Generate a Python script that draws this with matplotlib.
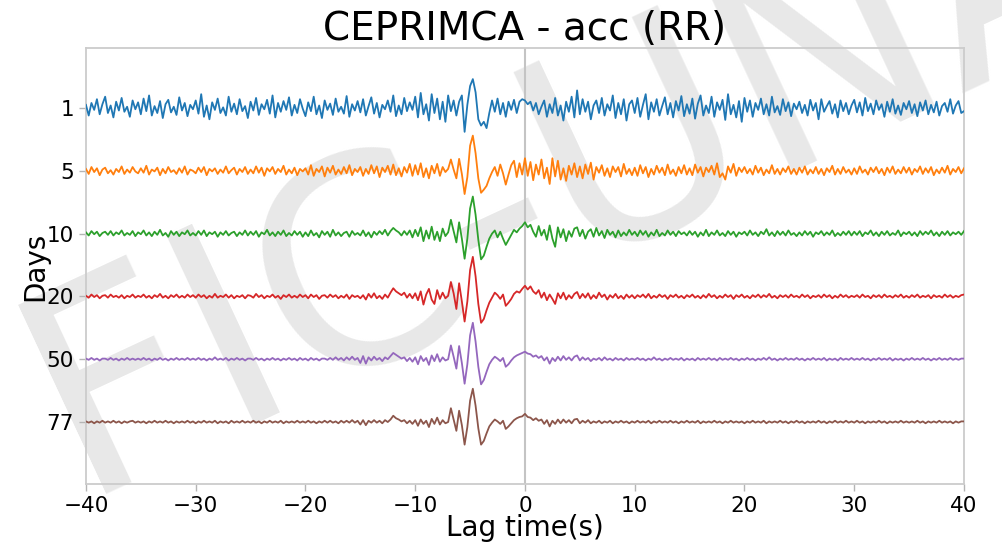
import numpy as np
import matplotlib
matplotlib.use("Agg")
import matplotlib.pyplot as plt

# ---- data -----------------------------------------------------------------
days = ["1", "5", "10", "20", "50", "77"]
t_start, t_step = -40.0, 0.25          # lag-time sampling (s)

# amplitudes (100 = spacing between two traces), one row = 5 s
d1 = [5,-12,8,-3,14,-10,6,18,-8,4,-15,10,-4,16,-6,2,-14,12,-2,9,
      -10,15,-5,20,-12,3,-8,11,-16,6,13,-7,2,-11,17,-4,8,-13,5,-2,
      12,-9,22,-14,4,-18,9,-3,15,-8,1,-12,18,-6,7,-10,14,-5,3,-16,
      10,-4,16,-11,6,-2,13,-9,20,-15,8,-6,11,-3,17,-12,5,-8,14,-1,
      -13,9,-5,18,-10,4,-16,12,-3,7,-11,15,-6,2,-9,19,-14,6,-4,11,
      -7,14,-12,3,17,-9,8,-15,5,-2,12,-6,20,-13,4,-10,16,-5,9,-3,
      18,-15,24,-10,6,-20,22,-8,15,-18,10,-22,20,-5,12,-12,10,20,-38,5,
      35,46,25,-18,-28,-22,-32,-8,12,-6,15,-10,8,-14,10,-3,13,-8,10,14,
      12,6,10,-4,8,-10,2,12,-14,6,-8,16,-12,4,-20,10,-6,18,-15,28,
      -10,14,-6,10,-18,4,12,-8,16,-12,6,-4,20,-16,8,-10,14,-20,6,12,
      -8,16,-14,5,22,-18,9,-6,14,-12,3,17,-10,8,-15,11,-4,19,-13,6,
      -9,15,-17,7,20,-12,4,-8,18,-14,9,-3,13,-19,22,-10,5,-15,11,-22,
      16,-6,12,-14,8,-3,15,-10,6,-12,18,-7,3,-11,14,-5,9,-13,7,-2,
      10,-8,5,-12,13,-4,8,-18,14,-6,3,11,-9,6,-15,12,-5,8,-10,4,
      13,-7,9,-12,16,-5,7,-10,12,-3,6,-14,10,-6,14,-9,4,-11,8,-2,
      11,-8,6,-13,9,-4,12,-10,5,-7,10,-12,3,8,-6,14,-9,4,11,-8,
      -5]

d5 = [3,-5,6,-2,4,-7,2,5,-4,1,-6,3,-2,7,-5,2,-3,6,-1,-4,
      4,-3,8,-6,2,-1,5,-7,3,-4,6,-2,1,-5,4,-3,7,-6,2,0,
      -4,5,-2,6,-7,3,-1,4,-5,2,-3,7,-4,1,5,-6,3,-2,6,-5,
      2,-4,7,-3,5,-8,4,-1,6,-5,3,-2,8,-6,2,-4,5,-7,3,-1,
      4,-6,9,-8,3,-2,7,-9,5,-3,8,-6,2,-5,6,-4,9,-7,3,-2,
      6,-8,3,-5,9,-4,7,-10,5,-2,8,-6,10,-7,4,-9,6,-3,11,-8,
      9,-6,12,-10,4,-12,8,-4,11,-8,6,-2,3,18,2,-12,19,-5,-37,-10,
      40,56,28,-12,-35,-30,-24,-12,-2,6,-8,10,-4,-22,-6,9,16,-10,12,-6,
      20,-8,14,-15,10,-6,18,-12,5,-21,20,-9,16,-14,4,-16,8,-6,12,-10,
      7,-12,10,-5,13,-14,6,-3,9,-8,4,-10,7,-2,6,-9,11,-5,3,-7,
      5,-8,9,-4,6,-10,3,-6,8,-3,5,-7,10,-5,2,-8,6,-4,9,-6,
      4,-7,10,-3,6,-9,5,-2,8,-6,12,-10,-4,-14,7,-3,11,-8,5,-2,
      6,-4,3,-6,8,-3,5,-7,2,-4,9,-5,3,-6,4,-2,7,-5,3,-6,
      5,-3,7,-6,2,-4,6,-5,3,-7,4,-2,8,-6,3,-5,6,-3,2,-6,
      4,-5,7,-3,2,-6,5,-2,6,-4,3,-7,5,-3,7,-5,2,-4,6,-3,
      5,-6,3,-2,7,-5,4,-3,6,-7,2,-4,5,-3,8,-6,3,-2,6,-4,
      4]

d10 = [2,-3,4,-1,3,-4,1,3,-2,4,-3,2,-1,5,-3,1,-2,4,-4,2,
       -1,5,-3,2,-4,3,-2,6,-3,1,-5,4,-2,3,-4,2,-1,5,-3,1,
       -3,4,-2,5,-4,2,-1,3,-5,2,-2,4,-3,1,3,-4,2,-2,5,-3,
       3,-2,4,-5,2,-1,6,-3,2,-4,3,-2,5,-4,1,-3,4,-2,3,-5,
       2,-4,5,-3,1,-6,4,-2,3,-5,6,-3,2,-4,1,3,-5,4,-2,1,
       -3,5,-4,2,-6,3,-2,4,-1,6,-3,4,9,5,2,-3,4,-2,5,-6,
       6,-4,10,-12,5,-8,11,-10,3,-12,8,-4,2,22,4,-14,18,-8,-40,-8,
       40,59,30,-10,-41,-35,-21,-8,0,5,-6,3,-8,-18,-10,-2,6,2,8,12,
       18,10,14,3,-5,12,-3,6,-10,13,-8,-21,10,-6,7,-12,4,-5,8,10,
       -4,6,-8,3,7,-5,9,-3,4,-7,6,-2,3,-6,5,-4,2,-3,6,-2,
       3,-4,5,-2,4,-5,2,-3,6,-4,1,-3,5,-2,3,-4,4,-1,2,-3,
       4,-2,3,-5,2,-3,6,-4,2,-2,5,-3,1,-4,4,-2,3,-5,2,-1,
       3,-3,5,-2,2,-4,3,-1,7,-3,2,-4,4,-2,3,-3,5,-2,1,-4,
       2,-3,4,-2,3,-5,2,-1,4,-3,2,-2,5,-4,1,-3,3,-2,4,-3,
       3,-2,4,-4,2,-1,5,-3,2,-4,3,-2,4,-3,1,-2,5,-4,2,-1,
       3,-3,2,-4,4,-2,3,-1,5,-3,2,-4,3,-2,4,-3,2,-1,3,-2,
       4]

d20 = [1,-2,3,-1,2,-3,1,2,-2,3,-1,1,-2,2,-3,1,-1,3,-2,1,
       -1,3,-2,1,-3,2,-1,4,-2,1,-3,2,-1,3,-2,1,-2,3,-1,2,
       -2,3,-1,2,-3,1,-2,4,-2,1,-1,3,-2,2,-3,1,-1,2,-3,2,
       1,-2,4,-1,2,-3,1,-1,3,-2,1,-4,2,-1,3,-2,1,-2,3,-1,
       2,-3,3,-1,2,-4,1,2,-2,3,-1,2,-3,1,-2,3,-4,2,-1,1,
       -3,2,-5,4,-2,5,-3,1,-4,3,-2,6,13,8,5,2,6,-2,4,-3,
       5,-6,8,-13,3,12,-5,-12,10,-4,6,-3,1,23,5,-20,21,-8,-40,-8,
       42,63,32,-12,-42,-36,-22,-10,-2,6,2,-4,3,-15,-10,-4,4,8,6,12,
       17,11,16,8,4,10,-2,6,-6,3,-4,-12,5,-3,6,-5,2,-3,4,7,
       -3,4,-2,5,-4,2,-3,6,-1,3,-5,2,-2,4,-3,1,-4,3,-2,2,
       -3,2,-1,3,-2,4,-3,1,-2,3,-1,2,-4,2,-1,3,-2,1,-3,2,
       -1,3,-2,1,-3,2,-2,4,-1,2,-3,1,-2,3,-1,2,-4,2,-1,3,
       -2,1,-3,2,-1,3,-2,2,-1,4,-2,1,-3,2,-1,2,-2,3,-1,1,
       -2,3,-1,2,-3,1,-1,2,-2,3,-1,2,-3,1,-2,3,-1,2,-2,1,
       -1,2,-2,3,-1,1,-3,2,-1,2,-2,3,-1,1,-2,2,-1,3,-2,1,
       -2,2,-1,3,-2,1,-1,2,-3,2,-1,1,-2,3,-1,2,-2,1,-1,2,
       3]

d50 = [1,-1,2,-1,1,-2,1,1,-1,2,-1,1,-2,1,-1,2,-1,1,-1,1,
       -1,2,-1,1,-2,1,-1,2,-1,1,-2,1,-1,2,-1,1,-1,2,-1,1,
       -1,2,-1,1,-2,1,-1,3,-1,1,-1,2,-2,1,-1,2,-1,1,-2,1,
       1,-1,2,-1,1,-2,1,-1,2,-1,1,-2,1,-1,2,-1,1,-2,2,-1,
       1,-2,2,-1,1,-2,1,1,-1,2,-1,3,-1,2,-2,3,-1,4,-1,2,
       -6,5,-7,3,-2,4,-1,2,-3,3,0,5,10,7,4,1,3,-3,2,-4,
       3,-8,5,-3,2,-9,6,-3,8,-4,3,-2,0,22,4,-15,21,-6,-39,-8,
       38,58,28,-12,-40,-33,-20,-8,-1,4,1,-3,2,-12,-8,-2,3,6,8,10,
       12,9,8,4,6,2,5,-2,3,-7,2,-3,4,-2,5,-1,3,-2,4,6,
       -2,3,-1,2,-3,1,-1,2,-2,3,-1,1,-2,2,-1,1,-2,2,-1,1,
       -1,2,-1,1,-2,1,-1,3,-1,1,-2,1,-1,2,-1,1,-1,2,-2,1,
       -1,1,-2,2,-1,1,-1,2,-1,1,-2,2,-1,1,-1,2,-1,1,-2,1,
       -1,2,-1,1,-2,1,-1,2,-1,3,-1,1,-2,1,-1,2,-1,1,-1,2,
       -1,1,-2,1,-1,2,-1,1,-1,2,-2,1,-1,1,-2,2,-1,1,-1,2,
       -1,1,-1,2,-1,1,-2,1,-1,2,-1,1,-1,2,-2,1,-1,1,-2,1,
       -1,2,-1,1,-1,2,-1,1,-2,1,-1,2,-1,1,-1,2,-1,1,-1,1,
       1]

d77 = [1,-1,1,-2,1,-1,2,-1,1,-1,2,-1,1,-2,1,-1,1,2,-1,1,
       -1,1,-2,1,-1,2,-1,1,-1,2,-1,1,-2,1,-1,1,-1,2,-1,1,
       -2,1,-1,2,-1,1,-1,2,-2,1,-1,1,-2,2,-1,1,-1,2,-1,1,
       -1,2,-1,1,-2,1,-1,2,-1,1,-1,2,-2,1,-1,1,-1,2,-1,1,
       -1,2,-1,1,-2,1,-1,2,-1,2,-1,1,-2,2,-1,2,-1,3,-1,2,
       -4,3,-5,2,-1,3,-1,2,-2,3,0,4,10,6,4,1,3,-2,2,-3,
       3,-6,4,-3,2,-8,5,-3,7,-4,3,-2,0,22,4,-14,18,-5,-36,-8,
       34,53,26,-10,-36,-30,-18,-7,-1,4,1,-3,2,-11,-7,-2,3,6,8,9,
       13,8,7,3,6,2,4,-3,3,-7,2,-3,4,-2,4,-1,3,-2,4,5,
       -2,2,-1,3,-2,1,-1,2,-2,1,-1,2,-2,1,-1,2,-1,1,-2,1,
       -1,2,-1,1,-1,2,-2,1,-1,2,-1,1,-1,2,-1,1,-2,1,-1,2,
       -1,1,-1,2,-2,1,-1,1,-1,2,-1,1,-2,1,-1,2,-1,1,-1,1,
       -2,1,-1,2,-1,1,-1,2,-2,1,-1,1,-1,2,-1,1,-2,1,-1,2,
       -1,1,-2,1,-1,1,-1,2,-1,1,-2,1,-1,2,-1,1,-1,2,-1,1,
       -1,2,-1,1,-2,1,-1,1,-1,2,-1,1,-2,1,-1,1,-1,2,-1,1,
       -1,1,-1,2,-1,1,-2,1,-1,1,-1,2,-1,1,-1,1,-2,1,-1,1,
       1]

traces = [d1, d5, d10, d20, d50, d77]
colors = ["#1f77b4", "#ff7f0e", "#2ca02c", "#d62728", "#9467bd", "#8c564b"]

# ---- figure ---------------------------------------------------------------
fig = plt.figure(figsize=(10.03, 5.45), dpi=100)
fig.patch.set_facecolor("white")

# watermark (behind everything)
wm_kw = dict(fontsize=205, color="#e8e8e8", rotation=25, rotation_mode="anchor",
             va="baseline", zorder=-5, family="DejaVu Sans")
fig.text(0.575, 0.52, "FIC-", ha="right", **wm_kw)
fig.text(0.575, 0.52, "UNAM", ha="left", **wm_kw)

ax = fig.add_axes([0.0857, 0.1119, 0.8754, 0.8])
ax.set_facecolor("none")

for i, (amp, c) in enumerate(zip(traces, colors)):
    amp = np.asarray(amp, dtype=float)
    t = t_start + t_step * np.arange(len(amp))
    ax.plot(t, i - amp / 100.0, color=c, lw=1.3, zorder=3)

ax.axvline(0, color="#c4c4c4", lw=1.5, zorder=1)

ax.set_xlim(-40, 40)
ax.set_ylim(5.987, -0.955)
ax.set_xticks(np.arange(-40, 41, 10))
ax.set_yticks(range(len(days)))
ax.set_yticklabels(days)

for s in ax.spines.values():
    s.set_color("#cccccc")
    s.set_linewidth(1.3)

ax.tick_params(axis="both", labelsize=15.5, colors="#b5b5b5", labelcolor="black",
               length=5, width=1)
ax.set_xlabel("Lag time(s)", fontsize=20, labelpad=-1)
ax.set_ylabel("Days", fontsize=20, labelpad=-2)
ax.set_title("CEPRIMCA - acc (RR)", fontsize=28, pad=2)

fig.savefig("out.png", dpi=100)
